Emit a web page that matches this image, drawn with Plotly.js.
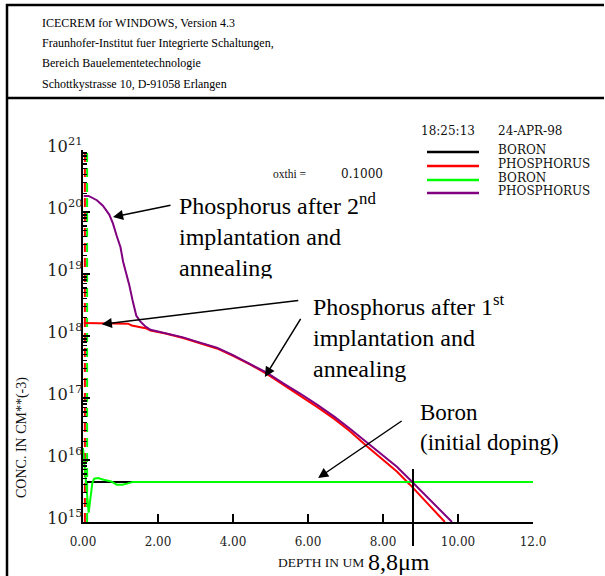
<!DOCTYPE html>
<html>
<head>
<meta charset="utf-8">
<script src="https://cdn.plot.ly/plotly-3.0.1.min.js"></script>
<style>html,body{margin:0;padding:0;background:#fff}#chart{width:605px;height:576px}</style>
</head>
<body>
<div id="chart"></div>
<script>
// ---------------- data ----------------
// Phosphorus after 2nd implantation and annealing (purple)
const depthPhos2 = [0.02, 0.15, 0.37, 0.53, 0.70, 0.80, 0.90, 1.00, 1.07, 1.15, 1.23, 1.32, 1.42, 1.52, 1.65, 1.80, 2.20, 2.67, 3.10, 3.57, 4.00, 4.45, 4.90, 5.33, 5.80, 6.24, 6.70, 7.12, 7.57, 7.92, 8.37, 8.72, 9.07, 9.44, 9.84];
const concPhos2  = [1.82e20, 1.82e20, 1.55e20, 1.26e20, 9.1e19, 6.5e19, 4.1e19, 2.7e19, 1.58e19, 1.07e19, 6.8e18, 3.8e18, 2.14e18, 1.74e18, 1.45e18, 1.26e18, 1.12e18, 9.5e17, 7.9e17, 6.5e17, 4.9e17, 3.6e17, 2.57e17, 1.74e17, 1.17e17, 7.8e16, 5.0e16, 3.2e16, 1.9e16, 1.29e16, 7.8e15, 4.8e15, 2.95e15, 1.74e15, 1.0e15];
// Phosphorus after 1st implantation and annealing (red)
const depthPhos1 = [0.02, 0.40, 0.80, 1.20, 1.30, 1.50, 1.70, 1.80, 2.20, 2.67, 3.10, 3.57, 4.00, 4.45, 4.90, 5.33, 5.80, 6.24, 6.70, 7.12, 7.57, 7.92, 8.37, 8.72, 9.07, 9.40, 9.65];
const concPhos1  = [1.62e18, 1.62e18, 1.58e18, 1.58e18, 1.48e18, 1.41e18, 1.32e18, 1.23e18, 1.10e18, 9.3e17, 7.8e17, 6.3e17, 4.8e17, 3.5e17, 2.45e17, 1.66e17, 1.10e17, 7.2e16, 4.6e16, 2.9e16, 1.66e16, 1.10e16, 6.5e15, 4.0e15, 2.4e15, 1.48e15, 1.0e15];
// Boron after processing (green)
const depthBoron = [0.00, 0.04, 0.10, 0.15, 0.20, 0.25, 0.30, 0.40, 0.55, 0.75, 0.90, 1.05, 1.20, 1.32, 12.0];
const concBoron  = [1.55e16, 8.9e15, 3.2e15, 1.41e15, 2.8e15, 4.3e15, 5.0e15, 5.1e15, 4.8e15, 4.5e15, 4.0e15, 4.0e15, 4.2e15, 4.4e15, 4.4e15];
// Boron initial doping (black)
const depthBoronInit = [0.05, 12.0];
const concBoronInit  = [4.4e15, 4.4e15];
// vertical surface segments drawn along the left axis
const surfaceDepthRed   = [0.05, 0.05];
const surfaceDepthGreen = [0.11, 0.11];
const surfaceConc       = [1e15, 1e21];
// junction depth marker
const junctionDepth = [8.8];
// axis ticks
const xTickVals = [0, 2, 4, 6, 8, 10, 12];
const xTickText = ['0.00', '2.00', '4.00', '6.00', '8.00', '10.00', '12.0'];
// legend
const legendNames  = ['BORON', 'PHOSPHORUS', 'BORON', 'PHOSPHORUS'];
const seriesColors = ['#000000', '#ff0000', '#00ff00', '#800080'];
// header text
const headerLines = [
  'ICECREM for WINDOWS, Version 4.3',
  'Fraunhofer-Institut fuer Integrierte Schaltungen,',
  'Bereich Bauelementetechnologie',
  'Schottkystrasse 10, D-91058 Erlangen'
];

// ---------------- geometry helpers (plot area in pixels) ----------------
const L = 83, R = 533, T = 150, B = 522, W = 605, H = 576;
const px = v => (v - L) / (R - L);
const py = v => (B - v) / (B - T);
const SERIF = 'Liberation Serif, Times New Roman, serif';
const SERIF2 = 'DejaVu Serif, serif';

const traces = [
  {x: depthBoronInit, y: concBoronInit, mode: 'lines', line: {color: seriesColors[0], width: 2}, name: legendNames[0]},
  {x: surfaceDepthRed, y: surfaceConc, mode: 'lines', line: {color: seriesColors[1], width: 2, dash: '9px,6px'}, showlegend: false},
  {x: surfaceDepthGreen, y: surfaceConc, mode: 'lines', line: {color: seriesColors[2], width: 2, dash: '9px,6px'}, showlegend: false},
  {x: depthPhos1, y: concPhos1, mode: 'lines', line: {color: seriesColors[1], width: 2}, name: legendNames[1]},
  {x: depthBoron, y: concBoron, mode: 'lines', line: {color: seriesColors[2], width: 2}, name: legendNames[2]},
  {x: depthPhos2, y: concPhos2, mode: 'lines', line: {color: seriesColors[3], width: 2}, name: legendNames[3]}
];

const shapes = [
  {type: 'line', xref: 'paper', yref: 'paper', x0: px(6), x1: px(604), y0: py(5), y1: py(5), line: {color: 'black', width: 2.5}},
  {type: 'line', xref: 'paper', yref: 'paper', x0: px(6), x1: px(604), y0: py(98), y1: py(98), line: {color: 'black', width: 2.5}},
  {type: 'line', xref: 'paper', yref: 'paper', x0: px(7), x1: px(7), y0: py(4), y1: py(577), line: {color: 'black', width: 2.5}},
  {type: 'line', xref: 'x', yref: 'paper', x0: junctionDepth[0], x1: junctionDepth[0], y0: py(546), y1: py(469), line: {color: 'black', width: 2}}
];
const legendY = [152, 166, 180, 193];
legendNames.forEach((n, i) => {
  shapes.push({type: 'line', xref: 'paper', yref: 'paper', x0: px(427), x1: px(479), y0: py(legendY[i]), y1: py(legendY[i]), line: {color: seriesColors[i], width: 2.5}});
});

const annotations = [];
const txt = (text, x, y, opts) => Object.assign({text: text, xref: 'paper', yref: 'paper', x: px(x), y: py(y), showarrow: false, xanchor: 'left', yanchor: 'middle', align: 'left', font: {family: SERIF, size: 12, color: 'black'}}, opts || {});

headerLines.forEach((t, i) => annotations.push(txt(t, 40, [23, 43, 63, 84][i])));
annotations.push(txt('18:25:13', 419, 131, {font: {family: SERIF2, size: 12, color: '#111'}}));
annotations.push(txt('24-APR-98', 496, 131, {font: {family: SERIF2, size: 12, color: '#111'}}));
legendNames.forEach((n, i) => annotations.push(txt(n, 496, legendY[i] - 2, {font: {family: SERIF2, size: 12, color: '#111'}})));
annotations.push(txt('oxthi =', 308, 174, {xanchor: 'right', font: {family: SERIF, size: 11.5, color: '#111'}}));
annotations.push(txt('0.1000', 339, 174, {font: {family: SERIF2, size: 12, color: '#111'}}));

annotations.push(txt('Phosphorus after 2<sup>nd</sup><br>implantation and<br>annealing', 177, 187, {yanchor: 'top', font: {family: SERIF, size: 24, color: 'black'}}));
// white band that trims the bottom of the first label, as in the original print
annotations.push({text: ' ', xref: 'paper', yref: 'paper', x: px(176), y: py(278), xanchor: 'left', yanchor: 'top', width: 110, height: 14, bgcolor: 'white', borderpad: 0, showarrow: false});
annotations.push(txt('Phosphorus after 1<sup>st</sup><br>implantation and<br>annealing', 311, 288, {yanchor: 'top', font: {family: SERIF, size: 24, color: 'black'}}));
annotations.push(txt('Boron<br>(initial doping)', 418, 398, {yanchor: 'top', font: {family: SERIF, size: 23, color: 'black'}}));

annotations.push(txt('CONC. IN CM**(-3)', 22, 437, {xanchor: 'center', textangle: -90, font: {family: SERIF, size: 14, color: '#111'}}));
annotations.push(txt('DEPTH IN UM', 366, 562, {xanchor: 'right', font: {family: SERIF, size: 13.5, color: '#111'}}));
annotations.push(txt('8,8\u03bcm', 366, 562, {font: {family: SERIF, size: 24, color: 'black'}}));

// arrows: head on the curve (data coords, log10 for y), tail offset in pixels
const arrow = (x, ylog, ax, ay) => ({xref: 'x', yref: 'y', x: x, y: ylog, ax: ax, ay: ay, text: ' ', font: {size: 1}, showarrow: true, arrowhead: 2, arrowsize: 1.35, arrowwidth: 1.5, arrowcolor: 'black', standoff: 0});
annotations.push(arrow(0.80, 19.92, 59, -12));
annotations.push(arrow(0.50, 18.19, 198, -24));
annotations.push(arrow(4.85, 17.34, 37, -60));
annotations.push(arrow(6.27, 15.71, 85, -58));

const layout = {
  width: W, height: H,
  margin: {l: L, r: W - R, t: T, b: H - B, pad: 0},
  paper_bgcolor: 'white', plot_bgcolor: 'white',
  showlegend: false,
  xaxis: {
    range: [0, 12], tickmode: 'array', tickvals: xTickVals, ticktext: xTickText,
    ticks: 'inside', ticklen: 8, tickwidth: 2, tickcolor: 'black',
    showline: true, linewidth: 2, linecolor: 'black', showgrid: false, zeroline: false,
    layer: 'above traces', ticklabelstandoff: 8,
    tickfont: {family: SERIF2, size: 12, color: '#222'}, fixedrange: true
  },
  yaxis: {
    type: 'log', range: [15, 21], dtick: 1, exponentformat: 'power',
    ticks: 'inside', ticklen: 7, tickwidth: 2, tickcolor: 'black',
    minor: {ticks: 'inside', ticklen: 4, tickwidth: 1.5, tickcolor: 'black', dtick: 'D1'},
    showline: true, linewidth: 2, linecolor: 'black', showgrid: false, zeroline: false,
    layer: 'above traces', ticklabelstandoff: -4, ticklabelshift: -4,
    tickfont: {family: SERIF2, size: 13, color: '#222'}, fixedrange: true
  },
  shapes: shapes,
  annotations: annotations
};

Plotly.newPlot('chart', traces, layout, {displayModeBar: false, staticPlot: true});
</script>
</body>
</html>
